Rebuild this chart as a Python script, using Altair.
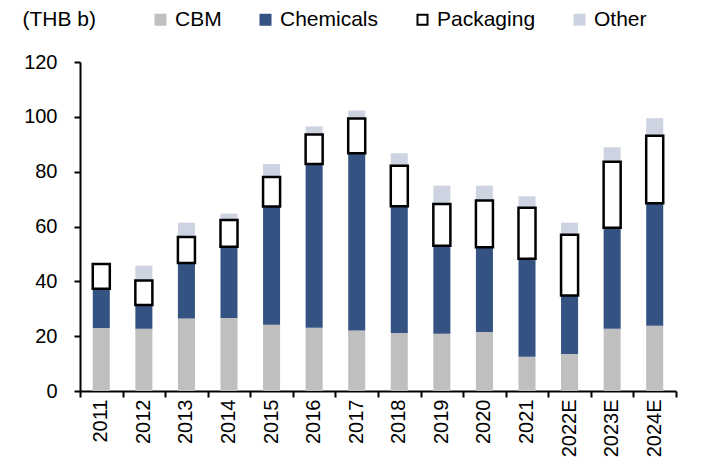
import altair as alt
import pandas as pd

years = ["2011", "2012", "2013", "2014", "2015", "2016", "2017", "2018",
         "2019", "2020", "2021", "2022E", "2023E", "2024E"]
cbm = [23.0, 22.7, 26.4, 26.6, 24.2, 23.1, 22.1, 21.2, 20.9, 21.5, 12.5, 13.5, 22.7, 23.8]
chemicals = [14.3, 8.7, 20.3, 26.0, 43.1, 59.7, 64.6, 46.2, 32.1, 30.9, 35.7, 21.3, 36.8, 44.7]
packaging = [9.0, 8.9, 9.5, 9.8, 10.8, 10.8, 12.7, 14.8, 15.2, 17.1, 18.6, 22.2, 24.1, 24.6]
other = [0.0, 5.4, 5.2, 2.3, 4.7, 2.9, 2.9, 4.5, 6.7, 5.4, 4.2, 4.4, 5.3, 6.4]

series = ["CBM", "Chemicals", "Packaging", "Other"]
fills = ["#BFBFBF", "#345382", "#FFFFFF", "#CDD3E0"]
strokes = ["#BFBFBF", "#345382", "#000000", "#CDD3E0"]

rows = []
for i, y in enumerate(years):
    for k, (s, vals) in enumerate(zip(series, [cbm, chemicals, packaging, other])):
        rows.append({"year": y, "series": s, "value": vals[i], "order": k})
df = pd.DataFrame(rows)

FONT = "Liberation Sans"
FS = 20

base = alt.Chart(df).transform_stack(
    stack="value", groupby=["year"], sort=[alt.SortField("order")], as_=["y0", "y1"]
)

xenc = alt.X("year:N", sort=years, title=None,
             scale=alt.Scale(paddingInner=0.6, paddingOuter=0.3),
             axis=alt.Axis(labelAngle=-90, ticks=False, domain=True, domainColor="black",
                           domainWidth=2, labelFont=FONT, labelFontSize=FS,
                           labelColor="black", labelPadding=8, labelAlign="right",
                           labelBaseline="middle"))

yenc = alt.Y("y0:Q", scale=alt.Scale(domain=[0, 120]),
             axis=alt.Axis(values=[0, 20, 40, 60, 80, 100, 120], grid=False,
                           domainColor="black", domainWidth=2, tickColor="black",
                           tickWidth=2, tickSize=6, labelFont=FONT, labelFontSize=FS,
                           labelColor="black", labelPadding=17,
                           title="(THB b)", titleAngle=0, titleFont=FONT,
                           titleFontSize=21, titleFontWeight="normal", titleColor="black",
                           titleX=-58, titleY=-43, titleAlign="left",
                           titleBaseline="middle"))

bars = base.mark_bar(strokeWidth=0).encode(
    x=xenc,
    y=yenc,
    y2="y1:Q",
    color=alt.Color("series:N", scale=alt.Scale(domain=series, range=fills),
                    legend=alt.Legend(orient="none", direction="horizontal",
                                      legendX=70, legendY=-53, title=None,
                                      symbolType="square", symbolSize=100,
                                      symbolStrokeWidth=2, labelFont=FONT,
                                      labelFontSize=21, labelColor="black",
                                      columnPadding=33, labelOffset=4, padding=0,
                                      symbolOpacity=1)),
    stroke=alt.Stroke("series:N", scale=alt.Scale(domain=series, range=strokes),
                      legend=None),
)

pack = base.transform_filter(alt.datum.series == "Packaging").mark_bar(
    fill="white", stroke="black", strokeWidth=2.5
).encode(x=xenc, y="y0:Q", y2="y1:Q")

tick_df = pd.DataFrame({"t": list(range(len(years) + 1))})
ticks = alt.Chart(tick_df).mark_point(opacity=0).encode(
    x=alt.X("t:Q", scale=alt.Scale(domain=[0, len(years)], nice=False, zero=True),
            axis=alt.Axis(orient="bottom", values=list(range(len(years) + 1)),
                          labels=False, domain=False, grid=False, tickColor="black",
                          tickWidth=2, tickSize=6, title=None)),
    y=alt.value(0),
)

chart = alt.layer(alt.layer(bars, pack), ticks).resolve_scale(x="independent").properties(
    width=596, height=329,
    padding={"left": 80, "top": 62, "right": 29, "bottom": 80},
    autosize=alt.AutoSizeParams(type="none"),
).configure_view(stroke=None)

chart.save("out.html", embed_options={"renderer": "svg", "actions": False})
